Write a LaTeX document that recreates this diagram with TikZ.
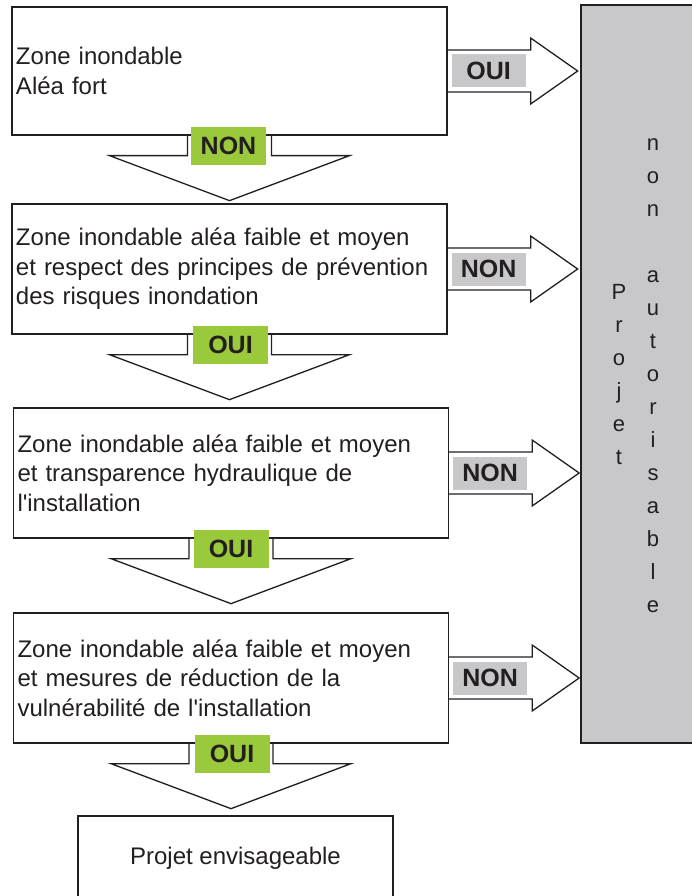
\documentclass[tikz,border=0pt]{standalone}
\usepackage{fontspec}
\setmainfont{Liberation Sans}[Ligatures=TeXOff]
\usetikzlibrary{calc}
\definecolor{ink}{HTML}{231F20}
\definecolor{lgreen}{HTML}{9AC93C}
\definecolor{lgray}{HTML}{C8C8CA}
\begin{document}
\begin{tikzpicture}[x=1pt,y=-1pt,line width=1.3pt,
  box/.style={draw=ink,rectangle,minimum height=130pt,text width=427pt,inner xsep=4pt,align=left,
    font=\fontsize{24}{29.5}\selectfont,text=ink},
  arr/.style={draw=ink,line join=miter},
  glab/.style={fill=lgreen,minimum width=75pt,minimum height=38pt,inner sep=0pt,text=ink,
    font=\fontsize{25}{28}\selectfont\bfseries},
  slab/.style={fill=lgray,minimum width=74pt,minimum height=33pt,inner sep=0pt,text=ink,
    font=\fontsize{25}{28}\selectfont\bfseries},
  vtext/.style={align=center,text=ink,font=\fontsize{22}{33}\selectfont,inner sep=0pt}]
\useasboundingbox (0,0) rectangle (691,896);
% right grey panel
\node[draw=ink,fill=lgray,minimum width=120pt,minimum height=738pt,inner sep=0pt] (g) at (641,374) {};
\node[vtext] (gp) at (619,374.5) {P\\r\\o\\j\\e\\t};
\node[vtext] (ga) at (653,376) {n\\o\\n\\\mbox{}\\a\\u\\t\\o\\r\\i\\s\\a\\b\\l\\e};
% decision boxes
\node[box,minimum height=128pt] (b1) at (229.5,71) {Zone inondable\\Aléa fort};
\node[box] (b2) at (229.5,269) {Zone inondable aléa faible et moyen\\et respect des principes de prévention\\des risques inondation};
\node[box] (b3) at (231,473) {Zone inondable aléa faible et moyen\\et transparence hydraulique de\\l'installation};
\node[box] (b4) at (231,678) {Zone inondable aléa faible et moyen\\et mesures de réduction de la\\vulnérabilité de l'installation};
\node[draw=ink,minimum width=315pt,minimum height=84pt,text=ink,font=\fontsize{24}{29.5}\selectfont] (f) at (235.5,858) {Projet envisageable};
% block arrows
\foreach \b in {b1,b2,b3,b4}{
  \draw[arr] ($(\b.east)+(0,-21)$) -- ++(83,0) -- ++(0,-12) -- ($(\b.east)+(130,0)$)
     -- ($(\b.east)+(83,33)$) -- ++(0,-12) -- ($(\b.east)+(0,21)$);
  \draw[arr] ($(\b.south)+(-42,0)$) -- ++(0,20) -- ++(-78,0) -- ($(\b.south)+(0,65)$)
     -- ($(\b.south)+(120,20)$) -- ++(-78,0) -- ++(0,-20);
}
% labels
\node[glab] (l1) at ($(b1.south)+(-1,10)$) {NON};
\node[glab] (l2) at ($(b2.south)+(1,10)$) {OUI};
\node[glab] (l3) at ($(b3.south)+(0,10)$) {OUI};
\node[glab] (l4) at ($(b4.south)+(1,10)$) {OUI};
\node[slab] (r1) at ($(b1.east)+(41,0)$) {OUI};
\node[slab] (r2) at ($(b2.east)+(41,0)$) {NON};
\node[slab] (r3) at ($(b3.east)+(41,0)$) {NON};
\node[slab] (r4) at ($(b4.east)+(41,0)$) {NON};
\end{tikzpicture}
\end{document}
